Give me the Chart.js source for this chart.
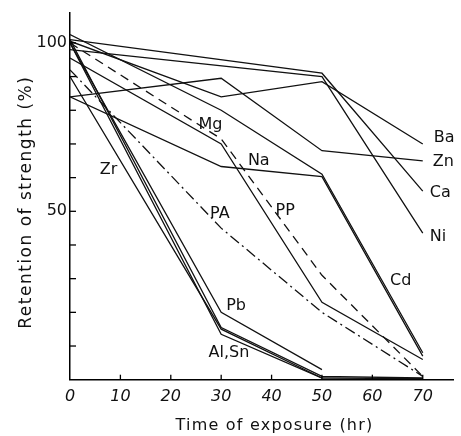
<!DOCTYPE html>
<html>
<head>
<meta charset="utf-8">
<script src="https://cdn.jsdelivr.net/npm/chart.js@4.4.0/dist/chart.umd.min.js"></script>
<style>
html,body{margin:0;padding:0;background:#fff;}
canvas{display:block;}
</style>
</head>
<body>
<canvas id="c" width="461" height="436"></canvas>
<script>
// ---- data (time in hr, retention in %) ----
const xTickLabels = [0, 10, 20, 30, 40, 50, 60, 70];
const yTickLabels = [50, 100];

const baHours = [0, 30, 50, 70];  const baValues = [100.5, 84, 88.5, 70];
const znHours = [0, 30, 50, 70];  const znValues = [84, 89.5, 68, 65];
const caHours = [0, 50, 70];      const caValues = [101, 91, 56];
const niHours = [0, 50, 70];      const niValues = [98, 90, 43.5];
const cdHours = [0, 30, 50, 70];  const cdValues = [102.5, 80, 61, 8];
const naHours = [0, 30, 50, 70];  const naValues = [84, 63.3, 60.3, 7];
const mgHours = [0, 30, 50, 70];  const mgValues = [95.5, 70, 23, 6];
const ppHours = [0, 30, 50, 70];  const ppValues = [100, 71.5, 31, 1];
const paHours = [0, 30, 50, 70];  const paValues = [92, 45, 20, 1];
const zrHours = [0, 30, 50];      const zrValues = [90, 15, 0.5];
const pbHours = [0, 30, 50];      const pbValues = [100, 20, 3];
const alHours = [0, 30, 50, 70];  const alValues = [101, 15.5, 1, 0.5];
const snHours = [0, 30, 50, 70];  const snValues = [100, 13.5, 0.5, 0.3];

// series label texts and where they sit (data units)
const labelTexts  = ['Ba', 'Zn', 'Ca', 'Ni', 'Cd', 'Mg', 'Na', 'Zr', 'PA', 'PP', 'Pb', 'Al,Sn'];
const labelHours  = [72.2, 72.0, 71.4, 71.4, 63.5, 25.5, 35.3, 5.9, 27.8, 40.8, 31.0, 27.5];
const labelValues = [71.8, 64.7, 55.5, 42.4, 29.3, 75.6, 65.0, 62.3, 49.2, 50.0, 21.9, 7.9];

function pts(h, v) { return h.map((x, i) => ({x: x, y: v[i]})); }

const seriesList = [
  ['Ba', baHours, baValues, []],
  ['Zn', znHours, znValues, []],
  ['Ca', caHours, caValues, []],
  ['Ni', niHours, niValues, []],
  ['Cd', cdHours, cdValues, []],
  ['Na', naHours, naValues, []],
  ['Mg', mgHours, mgValues, []],
  ['PP', ppHours, ppValues, [9, 6]],
  ['PA', paHours, paValues, [11, 4, 2, 4]],
  ['Zr', zrHours, zrValues, []],
  ['Pb', pbHours, pbValues, []],
  ['Al', alHours, alValues, []],
  ['Sn', snHours, snValues, []]
];

const datasets = seriesList.map(s => ({
  label: s[0],
  data: pts(s[1], s[2]),
  borderColor: '#111',
  borderWidth: 1.3,
  borderDash: s[3],
  pointRadius: 0,
  fill: false,
  tension: 0
}));

const FONT = '"DejaVu Sans", sans-serif';

const inkPlugin = {
  id: 'ink',
  afterDraw(chart) {
    const ctx = chart.ctx;
    const xs = chart.scales.x, ys = chart.scales.y;
    const ca = chart.chartArea;
    ctx.save();
    ctx.strokeStyle = '#000';
    ctx.lineWidth = 1.3;
    // inner tick marks
    ys.ticks.forEach(t => {
      if (t.value > 0 && t.value <= 100 && t.value % 10 === 0) {
        const py = ys.getPixelForValue(t.value);
        ctx.beginPath(); ctx.moveTo(ca.left, py); ctx.lineTo(ca.left + 6, py); ctx.stroke();
      }
    });
    xs.ticks.forEach(t => {
      if (t.value > 0 && t.value <= 70 && t.value % 10 === 0) {
        const px = xs.getPixelForValue(t.value);
        ctx.beginPath(); ctx.moveTo(px, ca.bottom); ctx.lineTo(px, ca.bottom - 5); ctx.stroke();
      }
    });
    // series labels
    ctx.fillStyle = '#111';
    ctx.font = '16px ' + FONT;
    ctx.textAlign = 'left';
    ctx.textBaseline = 'middle';
    labelTexts.forEach((txt, i) => {
      ctx.fillText(txt, xs.getPixelForValue(labelHours[i]), ys.getPixelForValue(labelValues[i]));
    });
    // axis titles
    try { ctx.letterSpacing = '1.2px'; } catch (e) {}
    ctx.textAlign = 'center';
    ctx.font = '16px ' + FONT;
    ctx.fillText('Time of exposure (hr)', (ca.left + ca.right) / 2 + 13, chart.height - 10);
    try { ctx.letterSpacing = '1.5px'; } catch (e) {}
    ctx.font = '17px ' + FONT;
    ctx.translate(27, (ca.top + ca.bottom) / 2 + 6);
    ctx.rotate(-Math.PI / 2);
    ctx.fillText('Retention of strength (%)', 0, 0);
    ctx.restore();
  }
};

new Chart(document.getElementById('c'), {
  type: 'line',
  data: { datasets: datasets },
  plugins: [inkPlugin],
  options: {
    responsive: false,
    devicePixelRatio: 1,
    animation: false,
    events: [],
    layout: { padding: { top: 12, right: 3.4, left: 0, bottom: 0 }, autoPadding: false },
    plugins: { legend: { display: false }, tooltip: { enabled: false }, title: { display: false } },
    scales: {
      x: {
        type: 'linear',
        min: 0, max: 76,
        afterFit: s => { s.height = 56.3; },
        grid: { display: true, drawOnChartArea: false, drawTicks: false },
        border: { display: true, color: '#000', width: 1.5 },
        ticks: {
          stepSize: 10,
          padding: 8,
          color: '#111',
          font: { family: FONT, size: 16, style: 'italic' },
          callback: v => xTickLabels.includes(v) ? String(v) : ''
        }
      },
      y: {
        type: 'linear',
        min: 0, max: 109,
        afterFit: s => { s.width = 70; },
        grid: { display: true, drawOnChartArea: false, drawTicks: false },
        border: { display: true, color: '#000', width: 1.5 },
        ticks: {
          stepSize: 10,
          padding: 3,
          color: '#111',
          font: { family: FONT, size: 16 },
          callback: v => yTickLabels.includes(v) ? String(v) : ''
        }
      }
    }
  }
});
</script>
</body>
</html>
